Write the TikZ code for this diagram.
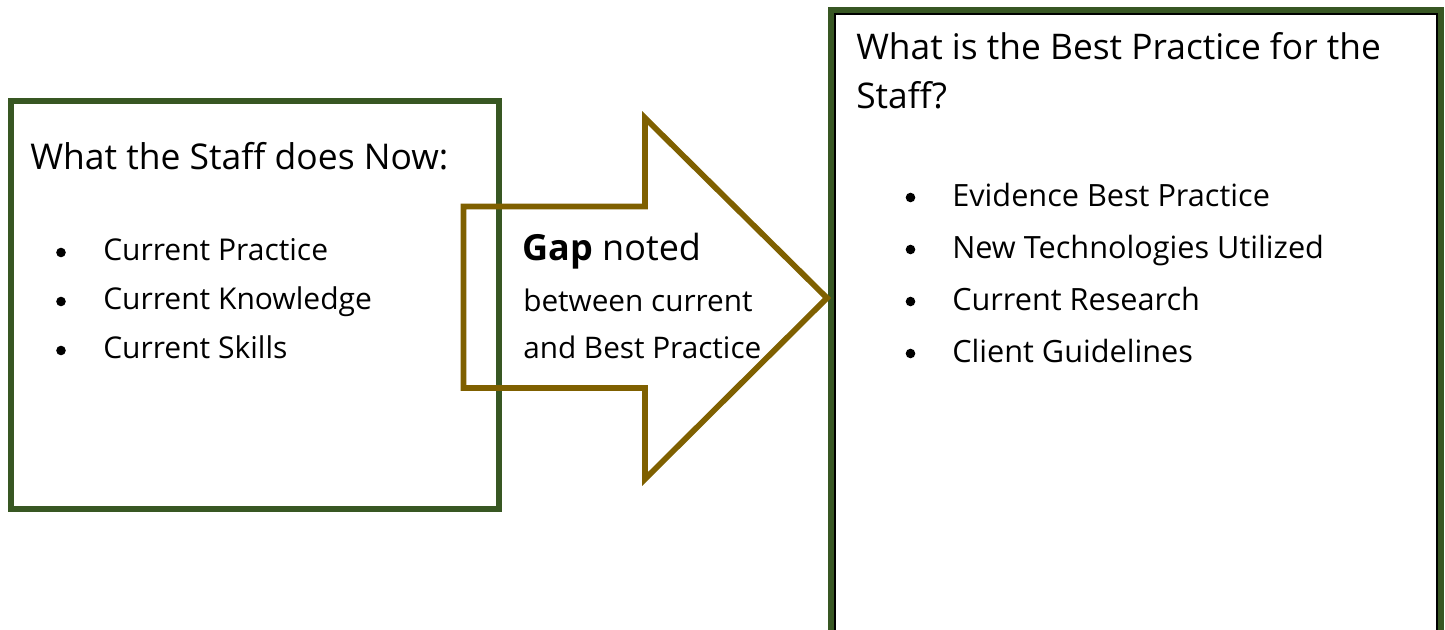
\documentclass[tikz,border=0pt]{standalone}
\usepackage{fontspec}
\setmainfont{Open Sans}
\usetikzlibrary{positioning}
\definecolor{boxgreen}{HTML}{385723}
\definecolor{gapbrown}{HTML}{7F6000}
\tikzset{
  greenbox/.style={draw=boxgreen, line width=4.5pt, inner sep=0pt},
  gaparrow/.style={draw=gapbrown, line width=4.3pt, miter limit=10},
  titletext/.style={anchor=base west, inner sep=0pt, font=\fontsize{26.6}{30}\selectfont},
  itemtext/.style={anchor=base west, inner sep=0pt, font=\fontsize{22.5}{26}\selectfont},
  gaptext/.style={anchor=base west, inner sep=0pt, font=\fontsize{22.3}{26}\selectfont},
}
\def\dotitem#1#2{\fill (#1,{#2}) circle (4.8);}

\begin{document}
\begin{tikzpicture}[x=0.75pt,y=-0.75pt]
			%%%%% START %%%%%
			\useasboundingbox (0,0) rectangle (1445,629);
			\clip (0,0) rectangle (1445,629);
			
			% what the staff does now
			\node[greenbox, minimum width=366pt, minimum height=306pt] (now) at (255,305) {};
			\node[titletext] (nowtitle) at (30,169) {What the Staff does Now:};
			\foreach \txt [count=\i] in {Current Practice, Current Knowledge, Current Skills} {
				\node[itemtext] (now\i) at (103,{260+49*(\i-1)}) {\txt};
				\dotitem{61}{252.5+49*(\i-1)}
			}
			
			% best practice box, runs off the bottom
			\node[greenbox, minimum width=457.5pt, minimum height=487.5pt] (best) at (1136,335) {};
			\draw[line width=1.5pt] (835,660) -- (835,13.5) -- (1436.5,13.5) -- (1436.5,660);
			\node[titletext, font=\fontsize{26.5}{30}\selectfont] (besttitle) at (856,59) {What is the Best Practice for the};
			\node[titletext, font=\fontsize{26.5}{30}\selectfont] (besttitleb) at (856,108) {Staff?};
			\foreach \txt [count=\i] in {Evidence Best Practice, New Technologies Utilized, Current Research, Client Guidelines} {
				\node[itemtext, font=\fontsize{23}{26}\selectfont] (best\i) at (952,{206+52*(\i-1)}) {\txt};
				\dotitem{910.5}{197.5+52*(\i-1)}
			}
			
			% gap arrow
			\draw[gaparrow] (463.5,206.5) -- (645,206.5) -- (645,118) -- (827,298) -- (645,479) -- (645,388) -- (463.5,388) -- cycle;
			\node[titletext, font=\fontsize{27}{30}\selectfont] (gap) at (522,260) {\textbf{Gap} noted};
			\node[gaptext] (gapb) at (523,311) {between current};
			\node[gaptext] (gapc) at (523,358) {and Best Practice};
			
			%%%%% END %%%%%
\end{tikzpicture}
\end{document}
